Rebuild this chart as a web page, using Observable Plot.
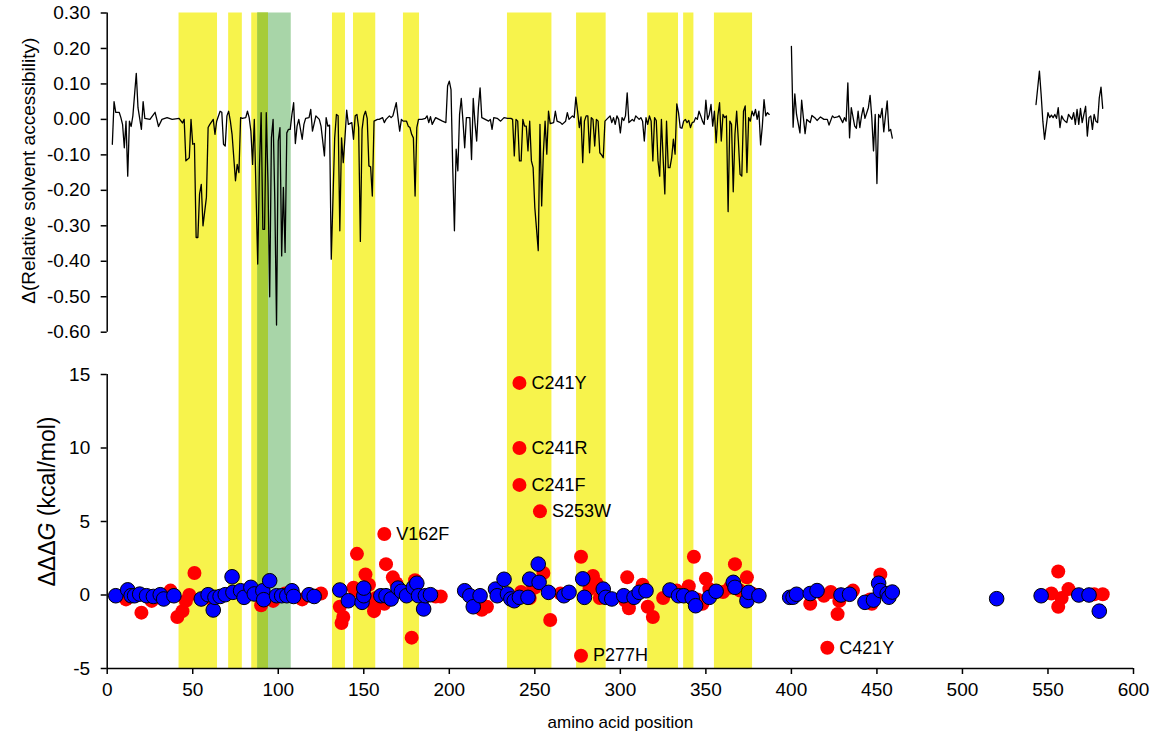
<!DOCTYPE html>
<html><head><meta charset="utf-8">
<script src="https://cdn.jsdelivr.net/npm/d3@7"></script>
<script src="https://cdn.jsdelivr.net/npm/@observablehq/plot@0.6"></script>
<style>
html,body{margin:0;padding:0;background:#fff;overflow:hidden;}
#chart svg{display:block;}
</style></head><body><div id="chart"></div>
<script>
// ---- shaded regions (amino acid positions) ----
const helixStart = [42, 71, 84.5, 131.7, 144, 173.2, 234, 274.4, 316, 337, 355];
const helixEnd   = [64.5, 79, 94.3, 139.3, 157, 182.6, 260, 291.7, 334, 343, 377.3];
const greenStart = [88];
const greenEnd   = [107.6];

// ---- top panel: Δ(relative solvent accessibility), [position, value] ----
const rsaSegment1 = [[3,-0.07],[4,0.05],[5,0.02],[7,0.02],[8,0.005],[9,-0.015],[10,-0.08],[11,-0.005],[12,-0.16],[13,-0.005],[14,-0.02],[15,0.01],[17,0.13],[18,0.033],[20,-0.028],[21,0.05],[22,0.003],[25,0],[28,0.02],[30,-0.02],[32,0],[35,0.005],[38,0],[42,0.003],[44,-0.01],[45,0],[46,-0.117],[48,-0.108],[49,0],[50,-0.07],[51,-0.068],[52,-0.333],[53,-0.333],[54,-0.21],[55,-0.183],[56,-0.3],[58,-0.22],[59,-0.023],[60,-0.014],[62,0],[63,-0.042],[64,-0.005],[66,0.023],[67,0.02],[68,-0.07],[69,-0.075],[70,0.01],[71,0.023],[72,-0.005],[73,-0.042],[75,-0.173],[76,-0.127],[77,-0.15],[78,0.005],[79,0.003],[81,0.005],[82,0.023],[83,0.005],[84,-0.033],[85,-0.127],[86,0],[88,-0.408],[89,-0.136],[90,0.019],[91,-0.31],[92,-0.31],[93,0.019],[94,-0.178],[95,-0.5],[96,-0.052],[97,0],[98,-0.23],[99,-0.58],[100,-0.061],[101,-0.023],[102,-0.385],[103,-0.192],[104,-0.375],[105,-0.038],[106,-0.028],[107,-0.028],[108,0.014],[109,0.047],[110,-0.068],[111,-0.019],[112,0],[114,-0.056],[115,-0.014],[116,0.003],[118,0.005],[119,0.028],[120,-0.033],[122,0.01],[124,0],[125,-0.019],[127,-0.103],[128,0.005],[129,-0.019],[130,-0.016],[131,-0.394],[133,-0.052],[134,0.014],[135,0.01],[136,-0.314],[137,-0.052],[138,-0.122],[139,-0.052],[140,0.026],[141,-0.014],[143,-0.009],[144,-0.056],[145,0.01],[146,0.014],[147,-0.023],[148,-0.344],[149,-0.028],[150,0.01],[151,0.023],[152,0.003],[153,-0.131],[154,-0.134],[155,-0.216],[156,-0.005],[158,0],[159,0],[161,0.005],[162,-0.009],[163,0],[165,0.01],[166,0.005],[167,0.01],[169,0.047],[170,0.005],[171,-0.033],[172,0],[173,-0.005],[175,-0.005],[176,-0.019],[177,-0.023],[178,-0.042],[179,-0.052],[180,-0.216],[181,-0.023],[182,0],[184,0],[186,0.003],[187,0.01],[188,-0.009],[189,0.008],[190,-0.014],[192,0.005],[194,0],[196,-0.005],[198,-0.009],[199,0.094],[200,0.108],[201,0.084],[202,-0.136],[203,-0.314],[204,-0.084],[205,-0.145],[206,0.014],[207,0.059],[208,-0.005],[209,-0.08],[210,0.005],[212,0.005],[213,-0.113],[214,0.059],[215,-0.009],[216,-0.061],[217,0.033],[218,0.089],[219,0.005],[221,0],[223,-0.005],[224,0],[225,-0.028],[226,0.005],[228,0.003],[230,-0.005],[232,0.005],[234,0.003],[236,0.003],[237,0],[238,-0.103],[239,0],[240,-0.005],[241,-0.117],[242,-0.117],[243,0],[244,-0.019],[245,-0.019],[246,-0.089],[247,-0.005],[248,-0.117],[249,-0.136],[250,-0.249],[252,-0.37],[253,-0.014],[254,-0.244],[255,-0.094],[256,-0.005],[257,-0.098],[258,0.023],[259,-0.012],[261,-0.009],[262,0.023],[263,-0.005],[265,-0.009],[266,-0.014],[268,-0.005],[269,0.019],[270,0],[272,0.01],[273,0.005],[274,0.063],[275,0.023],[276,-0.023],[277,0.007],[278,-0.122],[279,-0.005],[280,0.01],[281,0.01],[282,-0.094],[283,0.005],[284,0],[285,-0.075],[286,0],[287,-0.005],[288,-0.094],[289,-0.1],[290,-0.108],[291,-0.005],[293,0.005],[294,0.01],[295,-0.009],[296,0.005],[297,-0.014],[298,0.01],[299,0],[300,-0.038],[301,0.005],[302,-0.003],[303,0.01],[304,0.075],[305,-0.009],[307,0],[308,-0.005],[309,0.01],[311,0],[312,0.005],[313,-0.005],[314,-0.061],[315,0.005],[316,-0.014],[317,0.01],[318,-0.005],[319,-0.117],[320,0.005],[321,-0.003],[322,-0.117],[323,-0.16],[324,0],[325,-0.108],[326,-0.21],[327,-0.005],[328,-0.136],[329,-0.136],[330,-0.108],[331,-0.056],[332,-0.098],[333,0.044],[334,0.019],[335,-0.023],[336,-0.025],[337,-0.005],[338,0],[339,-0.009],[340,-0.003],[341,-0.023],[342,-0.009],[343,-0.007],[344,0.005],[345,0],[346,0.023],[347,0.01],[348,-0.005],[349,-0.014],[350,0.054],[351,0],[352,0.014],[353,0.042],[354,-0.019],[355,0.023],[356,-0.066],[357,0.01],[358,0.047],[359,-0.061],[360,0.014],[361,0.005],[362,0.01],[363,-0.26],[364,-0.005],[365,-0.014],[366,-0.204],[367,-0.042],[368,0.023],[369,-0.061],[370,-0.155],[371,-0.16],[372,0.023],[373,0.038],[374,-0.15],[375,0.005],[376,-0.005],[377,0.023],[378,0.01],[379,0.028],[380,0],[381,0.023],[382,-0.072],[383,-0.019],[384,0.056],[385,0.01],[386,0.019],[387,0.014]];
const rsaSegment2 = [[400,0.206],[401,-0.022],[402,0.072],[403,0.014],[405,-0.038],[406,0.054],[407,0.005],[408,-0.04],[409,0],[411,-0.009],[412,0.011],[414,0.003],[415,-0.003],[417,0.007],[419,0],[421,0],[422,-0.016],[424,0.01],[425,0.005],[427,0.007],[428,0.01],[430,-0.009],[431,0.005],[432,-0.005],[433,0.103],[434,-0.052],[435,0.033],[437,-0.019],[438,-0.025],[439,0.023],[440,-0.023],[441,0.01],[442,0.033],[443,0.003],[445,0.033],[446,0.068],[447,0.005],[448,-0.089],[449,0.014],[450,-0.181],[451,0.014],[452,0.005],[453,0.031],[454,-0.035],[455,0.01],[456,0.052],[457,-0.033],[458,-0.028],[459,-0.053]];
const rsaSegment3 = [[543,0.042],[545,0.136],[546,0.07],[547,-0.005],[548,-0.056],[550,0.019],[551,0.005],[552,0.012],[553,0.005],[554,0.014],[555,0.003],[556,0.033],[557,-0.023],[558,0.01],[559,0],[560,-0.005],[561,-0.009],[562,0.014],[564,0],[565,0.019],[566,-0.014],[567,0.028],[568,-0.014],[569,0.031],[570,-0.009],[571,0.014],[572,0.037],[573,-0.047],[574,0.005],[575,0.01],[576,-0.028],[577,0.014],[578,-0.005],[579,-0.009],[580,0.061],[581,0.091],[582,0.031]];

// ---- bottom panel: ΔΔΔG (kcal/mol) ----
const redPos = [11,20,26,37,41,44,46,48,51,55,60,81,90,97,104,114,125,136,137,138,144,145,146,151,153,155,156,157,162,163,167,169,178,180,192,195,219,222,242,247,249,250,255,259,265,277,282,284,286,288,303,304,305,313,316,319,325,333,340,343,345,348,350,352,360,364,367,370,374,377,411,419,423,427,428,436,446,447,452,552,556,556,558,562,577,582];
const redDDG = [-0.3,-1.2,-0.4,0.3,-1.5,-1.1,-0.4,0.0,1.5,-0.3,-0.2,0.3,-0.7,-0.4,0.1,-0.3,0.1,-0.8,-1.9,-1.5,0.5,0.3,2.8,1.4,0.7,-0.5,-1.1,-0.2,-0.6,2.1,1.2,0.8,-2.9,1.0,-0.1,-0.1,-1.0,-0.8,0.2,-0.2,0.6,0.5,1.5,-1.7,0.1,2.6,0.4,1.3,0.8,-0.2,-0.4,1.2,-0.9,0.7,-0.8,-1.5,-0.2,0.3,0.6,2.6,-0.3,-0.6,1.1,0.4,0.2,0.5,2.1,0.3,1.2,0.1,-0.6,-0.05,0.2,-1.3,-0.4,0.3,-0.3,-0.6,1.4,0.1,1.6,-0.8,-0.2,0.4,0.05,0.05];
const bluePos = [5,12,14,16,19,23,27,31,33,39,55,59,62,63,66,69,73,73.5,78,80,84,86,91,91.5,95,99,102,105,108,109,118,121,136,141,149,150,150,160,163,166,170,172,175,179,181,182,185,186,189,209,212,214,218,227,228,232,234,236,238,241,246,247,252,252.5,258,267,270,278,279,290,291.5,295,302,308,311,315,329,334,337,342,344,352,356,366,367,374,375,381,399,401,403,411,415,429,434,443,448,451,452,456,457,459,520,546,568,574,580];
const blueDDG = [-0.05,0.35,-0.05,-0.05,0.06,-0.05,-0.1,0.02,-0.27,-0.05,-0.27,0.02,-1.02,-0.16,-0.1,0.02,1.24,0.18,0.29,-0.16,0.52,0.07,0.29,-0.32,0.97,-0.05,-0.05,-0.05,0.29,-0.1,0.02,-0.1,0.34,-0.39,-0.5,-0.05,0.47,-0.05,-0.05,-0.27,0.47,0.25,-0.05,0.52,0.8,-0.05,-0.95,-0.05,0.02,0.29,-0.05,-0.8,-0.05,0.4,-0.05,1.07,0.07,-0.27,-0.39,-0.16,-0.16,1.08,2.1,0.86,0.18,-0.05,0.18,1.1,-0.16,0.4,-0.16,-0.27,-0.05,-0.16,0.18,0.29,0.34,-0.05,-0.05,-0.2,-0.73,-0.16,0.25,0.86,0.52,-0.39,0.18,-0.05,-0.16,-0.15,0.05,0.1,0.3,0.0,0.05,-0.5,-0.35,0.8,0.3,0.1,-0.15,0.2,-0.25,-0.05,0.0,0.0,-1.1];
const labelPos  = [241, 241, 241, 253, 162, 277, 421];
const labelDDG  = [14.43, 10.0, 7.49, 5.69, 4.15, -4.13, -3.59];
const labelText = ["C241Y", "C241R", "C241F", "S253W", "V162F", "P277H", "C421Y"];

// ---- axis ticks ----
const xTicks = [0, 50, 100, 150, 200, 250, 300, 350, 400, 450, 500, 550, 600];
const rsaTicks = [0.3, 0.2, 0.1, 0, -0.1, -0.2, -0.3, -0.4, -0.5, -0.6];
const ddgTicks = [15, 10, 5, 0, -5];

// ---- derived tables ----
const helix = helixStart.map((s, i) => ({start: s, end: helixEnd[i]}));
const green = greenStart.map((s, i) => ({start: s, end: greenEnd[i]}));
const overlap = [];
for (const h of helix) for (const g of green) {
  const s = Math.max(h.start, g.start), e = Math.min(h.end, g.end);
  if (e > s) overlap.push({start: s, end: e});
}
const rsa = [];
[rsaSegment1, rsaSegment2, rsaSegment3].forEach((seg, k) => seg.forEach(([p, v]) => rsa.push({pos: p, val: v, seg: k})));
const red = redPos.map((p, i) => ({pos: p, ddg: redDDG[i]}));
const blue = bluePos.map((p, i) => ({pos: p, ddg: blueDDG[i]}));
const labeled = labelPos.map((p, i) => ({pos: p, ddg: labelDDG[i], name: labelText[i]}));

const W = 1153, H1 = 352, H2 = 387;
const FONT = "'Liberation Sans', Arial, sans-serif";
const YEL = "#f7f34c", GRN = "#a8d5a8", OLV = "#a6cc39";
const ML = 106.7, MR = 20;

const bands = [
  Plot.rect(helix, {x1: "start", x2: "end", fill: YEL}),
  Plot.rect(green, {x1: "start", x2: "end", fill: GRN}),
  Plot.rect(overlap, {x1: "start", x2: "end", fill: OLV})
];

const topChart = Plot.plot({
  width: W, height: H1,
  marginLeft: ML, marginRight: MR, marginTop: 12.5, marginBottom: 0,
  style: {fontFamily: FONT, background: "white", color: "black", overflow: "visible"},
  x: {domain: [0, 600], axis: null},
  y: {domain: [-0.6, 0.3], range: [331.7, 12.5], axis: null},
  marks: [
    ...bands,
    Plot.line(rsa, {x: "pos", y: "val", z: "seg", stroke: "black", strokeWidth: 1.3}),
    Plot.ruleX([0], {y1: -0.6, y2: 0.3, stroke: "black", strokeWidth: 1.5}),
    Plot.axisY({ticks: rsaTicks, tickFormat: d => d.toFixed(2), tickSize: 6, tickPadding: 11,
                fontSize: 19, label: null, strokeWidth: 1.5}),
    Plot.text(["Δ(Relative solvent accessibility)"], {frameAnchor: "left", rotate: -90, dx: -78, dy: -12,
                fontSize: 19, textAnchor: "middle", lineAnchor: "middle", fill: "black"})
  ]
});

const bottomChart = Plot.plot({
  width: W, height: H2,
  marginLeft: ML, marginRight: MR, marginTop: 0, marginBottom: 71,
  style: {fontFamily: FONT, background: "white", color: "black"},
  x: {domain: [0, 600], axis: null},
  y: {domain: [-5, 15], range: [316, 22], axis: null},
  marks: [
    ...bands,
    Plot.ruleX([0], {y1: -5, y2: 15, stroke: "black", strokeWidth: 1.5}),
    Plot.ruleY([-5], {x1: 0, x2: 600, stroke: "black", strokeWidth: 1.5}),
    Plot.axisY({ticks: ddgTicks, tickFormat: d => String(d), tickSize: 6, tickPadding: 11,
                fontSize: 19, label: null, strokeWidth: 1.5}),
    Plot.axisX({ticks: xTicks, tickFormat: d => String(d), tickSize: 6, tickPadding: 8,
                fontSize: 19, label: null, strokeWidth: 1.5}),
    Plot.dot(red, {x: "pos", y: "ddg", r: 7, fill: "#ff0000"}),
    Plot.dot(labeled, {x: "pos", y: "ddg", r: 7, fill: "#ff0000"}),
    Plot.dot(blue, {x: "pos", y: "ddg", r: 7.3, fill: "#0000ff", stroke: "black", strokeWidth: 1}),
    Plot.text(labeled, {x: "pos", y: "ddg", text: "name", textAnchor: "start", dx: 12, fontSize: 18, fill: "black"}),
    Plot.text(["ΔΔΔG (kcal/mol)"], {frameAnchor: "left", rotate: -90, dx: -59.7, dy: -9,
                fontSize: 23, textAnchor: "middle", lineAnchor: "middle", fill: "black"}),
    Plot.text(["amino acid position"], {frameAnchor: "bottom", dy: 54, fontSize: 17,
                lineAnchor: "middle", fill: "black"})
  ]
});

// italic G in the ΔΔΔG title
d3.select(bottomChart).selectAll("text").filter(function () { return this.textContent === "ΔΔΔG (kcal/mol)"; })
  .each(function () {
    const t = d3.select(this);
    t.text(null);
    t.append("tspan").text("ΔΔΔ");
    t.append("tspan").attr("font-style", "italic").text("G");
    t.append("tspan").text(" (kcal/mol)");
  });

const root = document.getElementById("chart");
root.appendChild(topChart);
root.appendChild(bottomChart);
</script></body></html>
